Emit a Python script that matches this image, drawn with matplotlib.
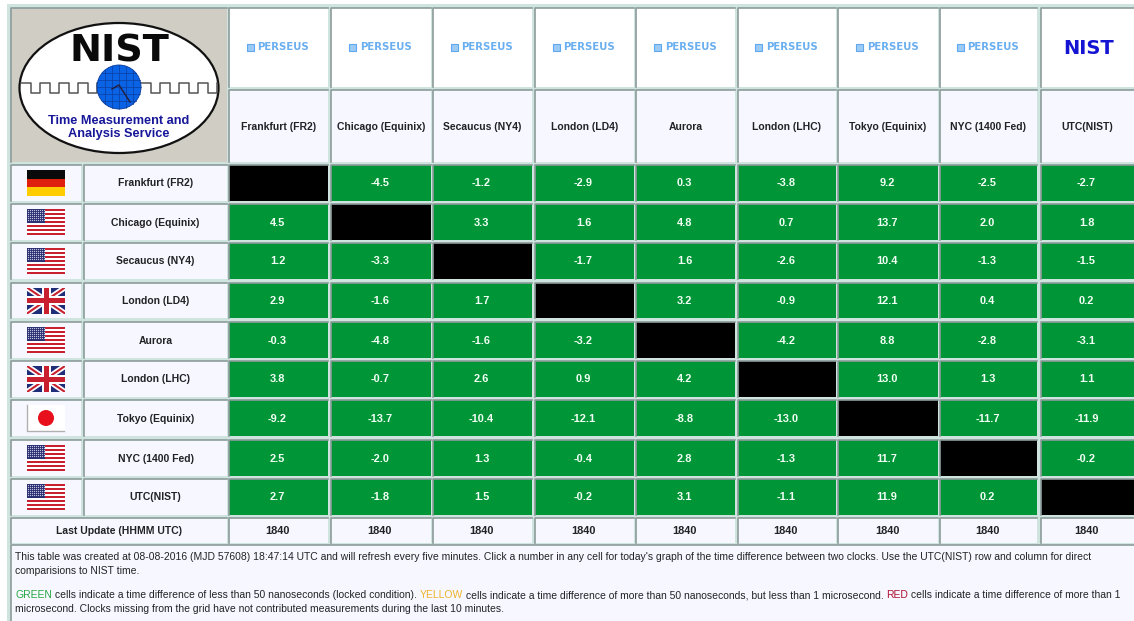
import numpy as np
import matplotlib
matplotlib.use('Agg')
import matplotlib.pyplot as plt
from matplotlib.patches import Rectangle, Ellipse, Circle

plt.rcParams['font.family'] = ['Liberation Sans', 'DejaVu Sans']

clocks = ['Frankfurt (FR2)', 'Chicago (Equinix)', 'Secaucus (NY4)', 'London (LD4)', 'Aurora',
          'London (LHC)', 'Tokyo (Equinix)', 'NYC (1400 Fed)', 'UTC(NIST)']
flags = ['de', 'us', 'us', 'uk', 'us', 'uk', 'jp', 'us', 'us']
vendors = ['perseus'] * 8 + ['nist']
last_update = [1840] * 9
diffs = [
    [None, -4.5, -1.2, -2.9, 0.3, -3.8, 9.2, -2.5, -2.7],
    [4.5, None, 3.3, 1.6, 4.8, 0.7, 13.7, 2.0, 1.8],
    [1.2, -3.3, None, -1.7, 1.6, -2.6, 10.4, -1.3, -1.5],
    [2.9, -1.6, 1.7, None, 3.2, -0.9, 12.1, 0.4, 0.2],
    [-0.3, -4.8, -1.6, -3.2, None, -4.2, 8.8, -2.8, -3.1],
    [3.8, -0.7, 2.6, 0.9, 4.2, None, 13.0, 1.3, 1.1],
    [-9.2, -13.7, -10.4, -12.1, -8.8, -13.0, None, -11.7, -11.9],
    [2.5, -2.0, 1.3, -0.4, 2.8, -1.3, 11.7, None, -0.2],
    [2.7, -1.8, 1.5, -0.2, 3.1, -1.1, 11.9, 0.2, None],
]

# cell edges in image pixels
col_l = [229, 331, 433, 535, 636, 738, 838, 940, 1041]
col_r = [328, 431, 532, 634, 735, 836, 938, 1037, 1136]
row_t = [165, 204, 243, 283, 322, 361, 400, 440, 479]
row_b = [201, 240, 279, 318, 358, 397, 436, 476, 515]

BG = '#CFE3DF'
CELL = '#F7F7FF'
GREEN = '#009537'
EDGE = '#8C9C9A'
INK = '#222226'
NAME_SIZE = 7.5

fig = plt.figure(figsize=(11.34, 6.21), dpi=100)
ax = fig.add_axes([0, 0, 1, 1])
ax.set_xlim(0, 1134)
ax.set_ylim(621, 0)
ax.axis('off')


def cell(x0, y0, x1, y1, color=CELL):
    ax.add_patch(Rectangle((x0, y0), x1 - x0, y1 - y0, fc=color, ec='none', zorder=2))
    ax.plot([x0 - 0.5, x0 - 0.5, x1], [y1, y0 - 0.5, y0 - 0.5], color=EDGE, lw=1.2, zorder=3)


def flag_de(cx, cy):
    for i, c in enumerate(['#0A0A0A', '#E0200F', '#FFCC00']):
        ax.add_patch(Rectangle((cx - 19, cy - 13 + i * 26 / 3), 38, 26 / 3, fc=c, ec='none', zorder=4))


def flag_us(cx, cy):
    for i in range(13):
        c = '#C8202F' if i % 2 == 0 else 'white'
        ax.add_patch(Rectangle((cx - 19, cy - 13 + i * 2), 38, 2, fc=c, ec='none', zorder=4))
    ax.add_patch(Rectangle((cx - 19, cy - 13), 18, 14, fc='#2A2F72', ec='none', zorder=5))
    xs, ys = np.meshgrid(np.arange(cx - 18, cx - 1, 2), np.arange(cy - 12, cy, 2))
    ax.scatter(xs.ravel(), ys.ravel(), s=0.8, c='#C4C6E0', linewidths=0, zorder=6)


def flag_uk(cx, cy):
    box = Rectangle((cx - 19, cy - 13), 38, 26, fc='#1F2C78', ec='none', zorder=4)
    ax.add_patch(box)
    for sx in [1, -1]:
        ln, = ax.plot([cx - 19 * sx, cx + 19 * sx], [cy - 13, cy + 13], color='white', lw=4, zorder=5)
        ln.set_clip_path(box)
        ln, = ax.plot([cx - 19 * sx, cx + 19 * sx], [cy - 13, cy + 13], color='#C8202F', lw=1.5, zorder=6)
        ln.set_clip_path(box)
    ax.add_patch(Rectangle((cx - 19, cy - 4.5), 38, 9, fc='white', ec='none', zorder=7))
    ax.add_patch(Rectangle((cx - 4.5, cy - 13), 9, 26, fc='white', ec='none', zorder=7))
    ax.add_patch(Rectangle((cx - 19, cy - 2.5), 38, 5, fc='#C8202F', ec='none', zorder=8))
    ax.add_patch(Rectangle((cx - 2.5, cy - 13), 5, 26, fc='#C8202F', ec='none', zorder=8))


def flag_jp(cx, cy):
    ax.add_patch(Rectangle((cx - 19, cy - 13), 38, 26, fc='white', ec='none', zorder=4))
    ax.plot([cx - 19, cx - 19, cx + 18], [cy - 13, cy + 13, cy + 13], color='#B0B0B0', lw=1, zorder=5)
    ax.add_patch(Circle((cx, cy), 8, fc='#E8101C', ec='none', zorder=6))


flag_fn = {'de': flag_de, 'us': flag_us, 'uk': flag_uk, 'jp': flag_jp}


def logo():
    ax.add_patch(Rectangle((11, 8), 216, 154, fc='#D0CDC4', ec='none', zorder=2))
    ax.plot([10.5, 10.5, 227], [162, 7.5, 7.5], color=EDGE, lw=1.2, zorder=3)
    ax.add_patch(Ellipse((119, 88), 199, 130, fc='white', ec='#111111', lw=1.6, zorder=4))
    ax.text(119, 47.5, 'NIST', fontsize=27.5, fontweight='bold', family='DejaVu Sans', color='#0A0A0A',
            ha='center', va='center_baseline', zorder=5)
    # square wave either side of the clock
    for x0, x1 in [(21, 97), (141, 217)]:
        xs, ys, x, up = [x0], [83], x0, True
        while x < x1:
            x = min(x + 9.5, x1)
            xs += [x, x]
            ys += [83 if up else 93, 93 if up else 83]
            up = not up
        ax.plot(xs, ys, color='#555555', lw=1.1, zorder=5)
    ax.add_patch(Circle((119, 87), 22, fc='#0A62E4', ec='#06389A', lw=0.6, zorder=6))
    for d in [-14, -7, 0, 7, 14]:
        h = np.sqrt(22 ** 2 - d ** 2)
        ax.plot([119 + d, 119 + d], [87 - h, 87 + h], color='#0A3FA0', lw=0.5, zorder=7)
        ax.plot([119 - h, 119 + h], [87 + d, 87 + d], color='#0A3FA0', lw=0.5, zorder=7)
    ax.plot([112, 119, 130], [89, 85, 102], color='#222244', lw=1.1, zorder=8)
    ax.text(119, 120.5, 'Time Measurement and', fontsize=9.2, fontweight='bold', color='#17179A',
            ha='center', va='center', zorder=5)
    ax.text(119, 133.5, 'Analysis Service', fontsize=9.2, fontweight='bold', color='#17179A',
            ha='center', va='center', zorder=5)


def vendor_mark(kind, cx):
    if kind == 'perseus':
        ax.add_patch(Rectangle((cx - 32, 44), 7, 7, fc='#9CCBF5', ec='#5FA8EE', lw=0.8, zorder=4))
        ax.text(cx + 5, 47.5, 'PERSEUS', fontsize=7.3, fontweight='bold', family='DejaVu Sans',
                color='#6AAFF0', ha='center', va='center', zorder=4)
    else:
        ax.text(cx, 47, 'NIST', fontsize=14, fontweight='bold', family='DejaVu Sans',
                color='#1414D2', ha='center', va='center_baseline', zorder=4)


def note_line(x, y, parts):
    # coloured words sit inline, so each run starts where the last one ended
    rend = fig.canvas.get_renderer()
    for s, c in parts:
        t = ax.text(x, y + 3.5, s.replace(' ', '\u00a0'), fontsize=7.45, color=c, ha='left', va='baseline', zorder=4)
        x = ax.transData.inverted().transform(t.get_window_extent(rend).get_points())[1][0]


ax.add_patch(Rectangle((7, 4), 1130, 617, fc=BG, ec='none', zorder=1))
logo()

for j, name in enumerate(clocks):
    cell(col_l[j], 8, col_r[j], 87, 'white')
    vendor_mark(vendors[j], (col_l[j] + col_r[j]) / 2)
    cell(col_l[j], 90, col_r[j], 162)
    ax.text((col_l[j] + min(col_r[j], 1134)) / 2, 126.5, name, fontsize=NAME_SIZE, fontweight='bold', color=INK,
            ha='center', va='center', zorder=4)

for i, name in enumerate(clocks):
    cy = (row_t[i] + row_b[i]) / 2
    cell(11, row_t[i], 81, row_b[i])
    flag_fn[flags[i]](46, cy)
    cell(84, row_t[i], 227, row_b[i])
    ax.text(155.5, cy + 0.5, name, fontsize=NAME_SIZE, fontweight='bold', color=INK, ha='center', va='center', zorder=4)
    for j, v in enumerate(diffs[i]):
        if v is None:
            cell(col_l[j], row_t[i], col_r[j], row_b[i], '#000000')
            continue
        cell(col_l[j], row_t[i], col_r[j], row_b[i], GREEN)
        ax.text((col_l[j] + min(col_r[j], 1134)) / 2 - 1, cy + 0.5, '%.1f' % v, fontsize=7.9, fontweight='bold',
                color='#F2FFF4', ha='center', va='center', zorder=4)

cell(11, 518, 227, 543)
ax.text(119, 530.5, 'Last Update (HHMM UTC)', fontsize=NAME_SIZE, fontweight='bold', color=INK,
        ha='center', va='center', zorder=4)
for j, v in enumerate(last_update):
    cell(col_l[j], 518, col_r[j], 543)
    ax.text((col_l[j] + min(col_r[j], 1134)) / 2 - 1, 530.5, str(v), fontsize=7.9, fontweight='bold', color=INK,
            ha='center', va='center', zorder=4)

cell(11, 545, 1136, 621)
note_line(15, 556.5, [("This table was created at 08-08-2016 (MJD 57608) 18:47:14 UTC and will refresh every five minutes. "
                       "Click a number in any cell for today's graph of the time difference between two clocks. "
                       "Use the UTC(NIST) row and column for direct", INK)])
note_line(15, 570.5, [('comparisions to NIST time.', INK)])
note_line(15, 595, [('GREEN', '#27A844'),
                    (' cells indicate a time difference of less than 50 nanoseconds (locked condition). ', INK),
                    ('YELLOW', '#EDB32C'),
                    (' cells indicate a time difference of more than 50 nanoseconds, but less than 1 microsecond. ', INK),
                    ('RED', '#B01030'),
                    (' cells indicate a time difference of more than 1', INK)])
note_line(15, 608, [('microsecond. Clocks missing from the grid have not contributed measurements during the last 10 minutes.', INK)])

fig.savefig('out.png', dpi=100)
